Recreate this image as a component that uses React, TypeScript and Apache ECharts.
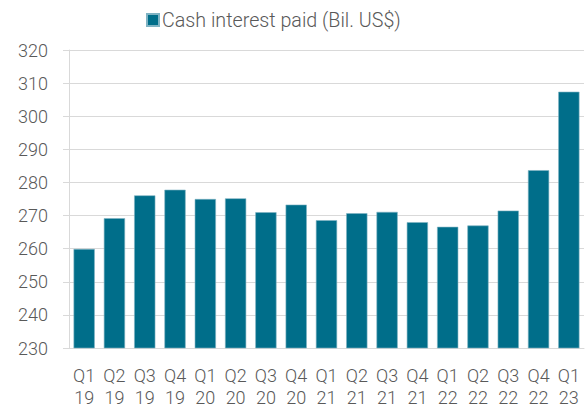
import React, { useEffect, useRef } from "react";
import * as echarts from "echarts";

const categories = [
  "Q1\n19", "Q2\n19", "Q3\n19", "Q4\n19",
  "Q1\n20", "Q2\n20", "Q3\n20", "Q4\n20",
  "Q1\n21", "Q2\n21", "Q3\n21", "Q4\n21",
  "Q1\n22", "Q2\n22", "Q3\n22", "Q4\n22",
  "Q1\n23",
];
const cashInterestPaid = [
  259.9, 269.2, 276.1, 277.8,
  275.0, 275.2, 271.0, 273.3,
  268.6, 270.7, 271.1, 268.0,
  266.6, 267.0, 271.5, 283.7,
  307.4,
];
const seriesName = "Cash interest paid (Bil. US$)";

export default function App() {
  const ref = useRef<HTMLDivElement>(null);
  useEffect(() => {
    if (!ref.current) return;
    const chart = echarts.init(ref.current, undefined, { renderer: "svg" });
    const font = "Roboto, 'Noto Sans', sans-serif";
    chart.setOption({
      animation: false,
      textStyle: { fontFamily: font, fontWeight: 300 },
      legend: {
        data: [seriesName],
        top: 5,
        left: 141,
        icon: "rect",
        itemWidth: 12,
        itemHeight: 12,
        itemGap: 4,
        textStyle: { fontSize: 19.7, fontWeight: 300, color: "#595959", fontFamily: font, padding: [0, 0, 0, -2] },
      },
      grid: { left: 69, right: 3, top: 50, bottom: 63 },
      xAxis: {
        type: "category",
        data: categories,
        axisLine: { show: true, lineStyle: { color: "#d9d9d9", width: 1 } },
        axisTick: { show: false },
        axisLabel: {
          interval: 0,
          fontSize: 18,
          fontWeight: 300,
          lineHeight: 22,
          color: "#595959",
          margin: 16,
          fontFamily: font,
        },
      },
      yAxis: {
        type: "value",
        min: 230,
        max: 320,
        interval: 10,
        axisLine: { show: true, lineStyle: { color: "#d9d9d9", width: 1 } },
        axisTick: { show: true, length: 6, lineStyle: { color: "#d9d9d9" } },
        splitLine: { show: true, lineStyle: { color: "#d9d9d9", width: 1 } },
        axisLabel: { fontSize: 18, fontWeight: 300, color: "#595959", margin: 21, fontFamily: font },
      },
      series: [
        {
          name: seriesName,
          type: "bar",
          data: cashInterestPaid,
          barWidth: "70%",
          itemStyle: { color: "#006e8a", borderColor: "#7fb3c3", borderWidth: 0.6 },
        },
      ],
    });
    return () => chart.dispose();
  }, []);
  return <div ref={ref} style={{ width: 587, height: 411, position: "absolute", left: 0, top: 0 }} />;
}
